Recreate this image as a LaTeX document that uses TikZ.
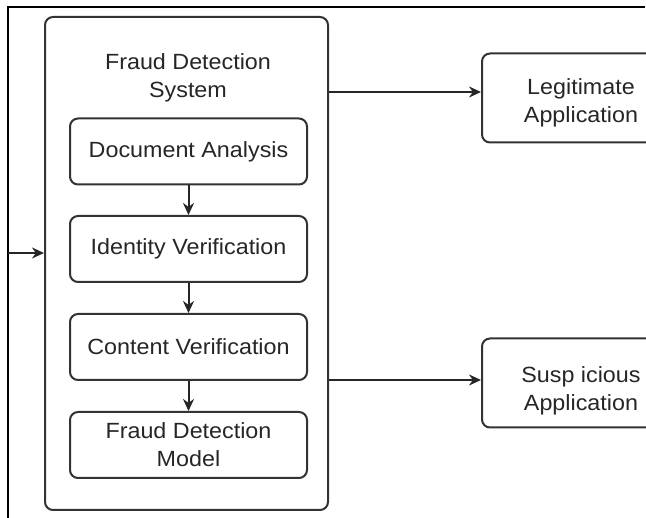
\documentclass[tikz,border=0pt]{standalone}
\usepackage{fontspec}
\setmainfont{Liberation Sans}[FakeStretch=1.06]
\usepackage{tikz}
\usetikzlibrary{arrows.meta,positioning,calc}

\begin{document}
\begin{tikzpicture}[
    x=1pt, y=-1pt,
    caption/.style={font=\fontsize{22}{28}\selectfont, align=center, text=black!85},
    box/.style={rectangle, rounded corners=8pt, draw=black!80, line width=2pt, fill=white, inner sep=1pt, caption},
    stage/.style={box, minimum width=237pt, minimum height=66pt},
    outcome/.style={box, minimum width=198pt, minimum height=89pt},
    link/.style={->, line width=2pt, draw=black!85},
    >={Stealth[length=12pt, width=11pt]}
]
    \useasboundingbox (0,0) rectangle (646,518);
    \clip (0,0) rectangle (646,518);

    % outer frame
    \draw[line width=1.5pt] (8,518) -- (8,7) -- (645,7);

    % system box
    \node[box, minimum width=283pt, minimum height=493pt] (sys) at (186.5, 263.5) {};
    \node[caption] (title) at (188, 78) {Fraud Detection\\System};

    \node[stage] (docana) at (188.5, 151.5) {Document Analysis};
    \node[stage] (idver) at (188.5, 249) {Identity Verification};
    \node[stage] (conver) at (188.5, 347) {Content Verification};
    \node[stage] (fdmodel) at (188.5, 445) {Fraud Detection\\Model};

    % outcomes on right
    \node[outcome, label={[caption, yshift=-5pt]center:Legitimate\\Application}] (legit) at (581, 98) {};
    \node[outcome, label={[caption, yshift=-8pt]center:Susp icious\\Application}] (susp) at (581, 383) {};

    \draw[link] (docana) -- (idver);
    \draw[link] (idver) -- (conver);
    \draw[link] (conver) -- (fdmodel);

    \coordinate (in) at (8, 253);
    \draw[link] (in) -- (in -| sys.west);
    \draw[link] (sys.east |- 0,92) -- (legit.west |- 0,92);
    \draw[link] (sys.east |- 0,380) -- (susp.west |- 0,380);
\end{tikzpicture}
\end{document}
